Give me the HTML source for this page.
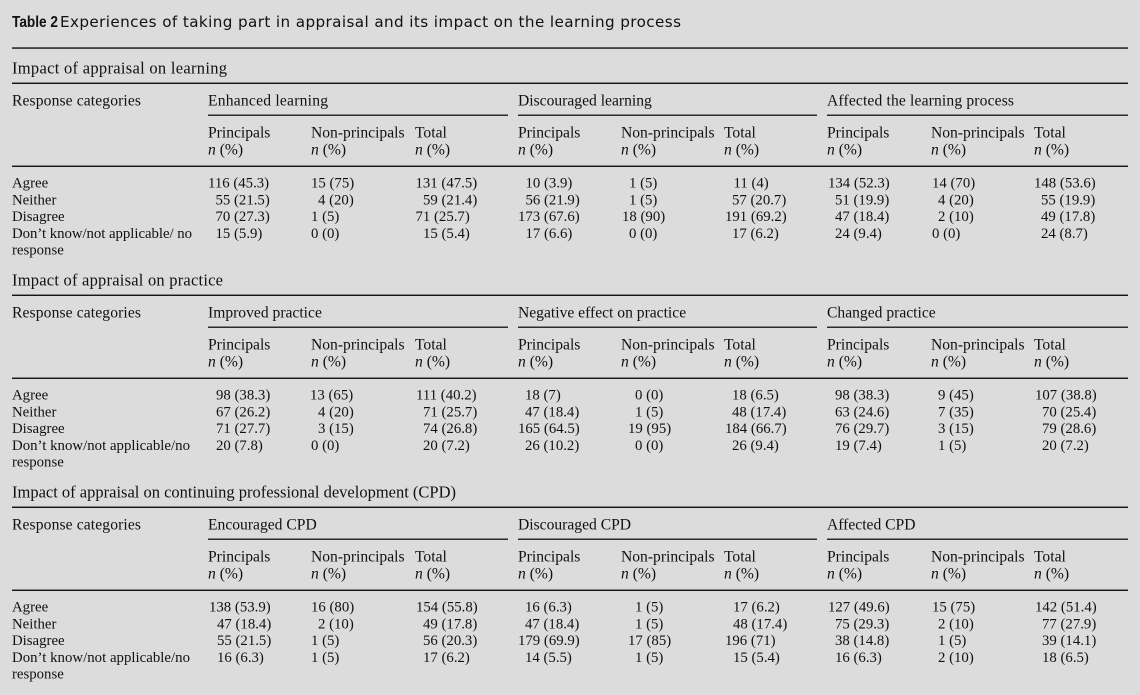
<!DOCTYPE html>
<html>
<head>
<meta charset="utf-8">
<style>
html,body{margin:0;padding:0;background:#dcdcdc;}
svg{display:block;}
text{fill:#111;}
.s{font-family:"Liberation Serif",serif;}
.h{font-size:15.6px;}
.r{font-size:14.8px;}
.d{font-size:14.8px;}
.t{font-size:16.5px;}
</style>
</head>
<body>
<svg width="1140" height="695" viewBox="0 0 1140 695" xmlns="http://www.w3.org/2000/svg">
<rect x="0" y="0" width="1140" height="695" fill="#dcdcdc"/>
<text x="12" y="27" font-family="Liberation Sans, sans-serif" font-size="15.5" font-weight="bold" textLength="46" lengthAdjust="spacingAndGlyphs">Table 2</text>
<text x="60" y="27" font-family="DejaVu Sans, Liberation Sans, sans-serif" font-size="15.2" textLength="621" lengthAdjust="spacing">Experiences of taking part in appraisal and its impact on the learning process</text>
<rect x="12" y="47.4" width="1116" height="1.3" fill="#000"/>

<!-- Section 1 -->
<g class="s">
<text class="t" x="12" y="73.5" textLength="215" lengthAdjust="spacing">Impact of appraisal on learning</text>
<rect x="12" y="82.6" width="1116" height="1.3" fill="#000"/>
<text class="h" x="12" y="105.5" textLength="129" lengthAdjust="spacing">Response categories</text>
<text class="h" x="208" y="105.5" textLength="120" lengthAdjust="spacing">Enhanced learning</text>
<text class="h" x="518" y="105.5">Discouraged learning</text>
<text class="h" x="827" y="105.5" textLength="187" lengthAdjust="spacing">Affected the learning process</text>
<rect x="208" y="114.6" width="300" height="1.2" fill="#000"/>
<rect x="518" y="114.6" width="299" height="1.2" fill="#000"/>
<rect x="827" y="114.6" width="301" height="1.2" fill="#000"/>
<text class="h" x="208" y="137.5">Principals</text><text class="h" x="311" y="137.5">Non-principals</text><text class="h" x="415" y="137.5">Total</text>
<text class="h" x="518" y="137.5">Principals</text><text class="h" x="621" y="137.5">Non-principals</text><text class="h" x="724" y="137.5">Total</text>
<text class="h" x="827" y="137.5">Principals</text><text class="h" x="931" y="137.5">Non-principals</text><text class="h" x="1034" y="137.5">Total</text>
<text class="h" x="208" y="154.5"><tspan font-style="italic">n</tspan> (%)</text><text class="h" x="311" y="154.5"><tspan font-style="italic">n</tspan> (%)</text><text class="h" x="415" y="154.5"><tspan font-style="italic">n</tspan> (%)</text>
<text class="h" x="518" y="154.5"><tspan font-style="italic">n</tspan> (%)</text><text class="h" x="621" y="154.5"><tspan font-style="italic">n</tspan> (%)</text><text class="h" x="724" y="154.5"><tspan font-style="italic">n</tspan> (%)</text>
<text class="h" x="827" y="154.5"><tspan font-style="italic">n</tspan> (%)</text><text class="h" x="931" y="154.5"><tspan font-style="italic">n</tspan> (%)</text><text class="h" x="1034" y="154.5"><tspan font-style="italic">n</tspan> (%)</text>
<rect x="12" y="165.6" width="1116" height="1.3" fill="#000"/>
<text class="r" x="12" y="187.5">Agree</text>
<text class="r" x="12" y="204.3">Neither</text>
<text class="r" x="12" y="221">Disagree</text>
<text class="r" x="12" y="237.8" textLength="180" lengthAdjust="spacing">Don’t know/not applicable/ no</text>
<text class="r" x="12" y="254.5">response</text>

<text class="d" x="208" y="187.5">116 (45.3)</text><text class="d" x="215.5" y="204.3">55 (21.5)</text><text class="d" x="215.5" y="221">70 (27.3)</text><text class="d" x="215.5" y="237.8">15 (5.9)</text>
<text class="d" x="311" y="187.5">15 (75)</text><text class="d" x="318" y="204.3">4 (20)</text><text class="d" x="311" y="221">1 (5)</text><text class="d" x="311" y="237.8">0 (0)</text>
<text class="d" x="415.5" y="187.5">131 (47.5)</text><text class="d" x="423" y="204.3">59 (21.4)</text><text class="d" x="415.5" y="221">71 (25.7)</text><text class="d" x="423" y="237.8">15 (5.4)</text>
<text class="d" x="525.5" y="187.5">10 (3.9)</text><text class="d" x="525.5" y="204.3">56 (21.9)</text><text class="d" x="518" y="221">173 (67.6)</text><text class="d" x="525.5" y="237.8">17 (6.6)</text>
<text class="d" x="629" y="187.5">1 (5)</text><text class="d" x="629" y="204.3">1 (5)</text><text class="d" x="622" y="221">18 (90)</text><text class="d" x="629" y="237.8">0 (0)</text>
<text class="d" x="733.5" y="187.5">11 (4)</text><text class="d" x="732" y="204.3">57 (20.7)</text><text class="d" x="725" y="221">191 (69.2)</text><text class="d" x="732" y="237.8">17 (6.2)</text>
<text class="d" x="828" y="187.5">134 (52.3)</text><text class="d" x="835" y="204.3">51 (19.9)</text><text class="d" x="835" y="221">47 (18.4)</text><text class="d" x="835" y="237.8">24 (9.4)</text>
<text class="d" x="932" y="187.5">14 (70)</text><text class="d" x="938" y="204.3">4 (20)</text><text class="d" x="938" y="221">2 (10)</text><text class="d" x="932" y="237.8">0 (0)</text>
<text class="d" x="1034" y="187.5">148 (53.6)</text><text class="d" x="1041" y="204.3">55 (19.9)</text><text class="d" x="1041" y="221">49 (17.8)</text><text class="d" x="1041" y="237.8">24 (8.7)</text>
</g>

<!-- Section 2 -->
<g class="s" transform="translate(0,212)">
<text class="t" x="12" y="73.5" textLength="211" lengthAdjust="spacing">Impact of appraisal on practice</text>
<rect x="12" y="82.6" width="1116" height="1.3" fill="#000"/>
<text class="h" x="12" y="105.5" textLength="129" lengthAdjust="spacing">Response categories</text>
<text class="h" x="208" y="105.5">Improved practice</text>
<text class="h" x="518" y="105.5">Negative effect on practice</text>
<text class="h" x="827" y="105.5">Changed practice</text>
<rect x="208" y="114.6" width="300" height="1.2" fill="#000"/>
<rect x="518" y="114.6" width="299" height="1.2" fill="#000"/>
<rect x="827" y="114.6" width="301" height="1.2" fill="#000"/>
<text class="h" x="208" y="137.5">Principals</text><text class="h" x="311" y="137.5">Non-principals</text><text class="h" x="415" y="137.5">Total</text>
<text class="h" x="518" y="137.5">Principals</text><text class="h" x="621" y="137.5">Non-principals</text><text class="h" x="724" y="137.5">Total</text>
<text class="h" x="827" y="137.5">Principals</text><text class="h" x="931" y="137.5">Non-principals</text><text class="h" x="1034" y="137.5">Total</text>
<text class="h" x="208" y="154.5"><tspan font-style="italic">n</tspan> (%)</text><text class="h" x="311" y="154.5"><tspan font-style="italic">n</tspan> (%)</text><text class="h" x="415" y="154.5"><tspan font-style="italic">n</tspan> (%)</text>
<text class="h" x="518" y="154.5"><tspan font-style="italic">n</tspan> (%)</text><text class="h" x="621" y="154.5"><tspan font-style="italic">n</tspan> (%)</text><text class="h" x="724" y="154.5"><tspan font-style="italic">n</tspan> (%)</text>
<text class="h" x="827" y="154.5"><tspan font-style="italic">n</tspan> (%)</text><text class="h" x="931" y="154.5"><tspan font-style="italic">n</tspan> (%)</text><text class="h" x="1034" y="154.5"><tspan font-style="italic">n</tspan> (%)</text>
<rect x="12" y="165.6" width="1116" height="1.3" fill="#000"/>
<text class="r" x="12" y="187.5">Agree</text>
<text class="r" x="12" y="204.3">Neither</text>
<text class="r" x="12" y="221">Disagree</text>
<text class="r" x="12" y="237.8" textLength="178" lengthAdjust="spacing">Don’t know/not applicable/no</text>
<text class="r" x="12" y="254.5">response</text>

<text class="d" x="216" y="187.5">98 (38.3)</text><text class="d" x="216" y="204.3">67 (26.2)</text><text class="d" x="216" y="221">71 (27.7)</text><text class="d" x="216" y="237.8">20 (7.8)</text>
<text class="d" x="310" y="187.5">13 (65)</text><text class="d" x="318" y="204.3">4 (20)</text><text class="d" x="318" y="221">3 (15)</text><text class="d" x="311" y="237.8">0 (0)</text>
<text class="d" x="416" y="187.5">111 (40.2)</text><text class="d" x="423" y="204.3">71 (25.7)</text><text class="d" x="423" y="221">74 (26.8)</text><text class="d" x="423" y="237.8">20 (7.2)</text>
<text class="d" x="525" y="187.5">18 (7)</text><text class="d" x="525" y="204.3">47 (18.4)</text><text class="d" x="518" y="221">165 (64.5)</text><text class="d" x="525" y="237.8">26 (10.2)</text>
<text class="d" x="635" y="187.5">0 (0)</text><text class="d" x="635" y="204.3">1 (5)</text><text class="d" x="628" y="221">19 (95)</text><text class="d" x="635" y="237.8">0 (0)</text>
<text class="d" x="732" y="187.5">18 (6.5)</text><text class="d" x="732" y="204.3">48 (17.4)</text><text class="d" x="725" y="221">184 (66.7)</text><text class="d" x="732" y="237.8">26 (9.4)</text>
<text class="d" x="835" y="187.5">98 (38.3)</text><text class="d" x="835" y="204.3">63 (24.6)</text><text class="d" x="835" y="221">76 (29.7)</text><text class="d" x="835" y="237.8">19 (7.4)</text>
<text class="d" x="938" y="187.5">9 (45)</text><text class="d" x="938" y="204.3">7 (35)</text><text class="d" x="938" y="221">3 (15)</text><text class="d" x="938" y="237.8">1 (5)</text>
<text class="d" x="1035" y="187.5">107 (38.8)</text><text class="d" x="1042" y="204.3">70 (25.4)</text><text class="d" x="1042" y="221">79 (28.6)</text><text class="d" x="1042" y="237.8">20 (7.2)</text>
</g>

<!-- Section 3 -->
<g class="s" transform="translate(0,424)">
<text class="t" x="12" y="73.5">Impact of appraisal on continuing professional development (CPD)</text>
<rect x="12" y="82.6" width="1116" height="1.3" fill="#000"/>
<text class="h" x="12" y="105.5" textLength="129" lengthAdjust="spacing">Response categories</text>
<text class="h" x="208" y="105.5">Encouraged CPD</text>
<text class="h" x="518" y="105.5">Discouraged CPD</text>
<text class="h" x="827" y="105.5">Affected CPD</text>
<rect x="208" y="114.6" width="300" height="1.2" fill="#000"/>
<rect x="518" y="114.6" width="299" height="1.2" fill="#000"/>
<rect x="827" y="114.6" width="301" height="1.2" fill="#000"/>
<text class="h" x="208" y="137.5">Principals</text><text class="h" x="311" y="137.5">Non-principals</text><text class="h" x="415" y="137.5">Total</text>
<text class="h" x="518" y="137.5">Principals</text><text class="h" x="621" y="137.5">Non-principals</text><text class="h" x="724" y="137.5">Total</text>
<text class="h" x="827" y="137.5">Principals</text><text class="h" x="931" y="137.5">Non-principals</text><text class="h" x="1034" y="137.5">Total</text>
<text class="h" x="208" y="154.5"><tspan font-style="italic">n</tspan> (%)</text><text class="h" x="311" y="154.5"><tspan font-style="italic">n</tspan> (%)</text><text class="h" x="415" y="154.5"><tspan font-style="italic">n</tspan> (%)</text>
<text class="h" x="518" y="154.5"><tspan font-style="italic">n</tspan> (%)</text><text class="h" x="621" y="154.5"><tspan font-style="italic">n</tspan> (%)</text><text class="h" x="724" y="154.5"><tspan font-style="italic">n</tspan> (%)</text>
<text class="h" x="827" y="154.5"><tspan font-style="italic">n</tspan> (%)</text><text class="h" x="931" y="154.5"><tspan font-style="italic">n</tspan> (%)</text><text class="h" x="1034" y="154.5"><tspan font-style="italic">n</tspan> (%)</text>
<rect x="12" y="165.6" width="1116" height="1.3" fill="#000"/>
<text class="r" x="12" y="187.5">Agree</text>
<text class="r" x="12" y="204.3">Neither</text>
<text class="r" x="12" y="221">Disagree</text>
<text class="r" x="12" y="237.8" textLength="178" lengthAdjust="spacing">Don’t know/not applicable/no</text>
<text class="r" x="12" y="254.5">response</text>

<text class="d" x="209" y="187.5">138 (53.9)</text><text class="d" x="217" y="204.3">47 (18.4)</text><text class="d" x="217" y="221">55 (21.5)</text><text class="d" x="217" y="237.8">16 (6.3)</text>
<text class="d" x="311" y="187.5">16 (80)</text><text class="d" x="318" y="204.3">2 (10)</text><text class="d" x="311" y="221">1 (5)</text><text class="d" x="311" y="237.8">1 (5)</text>
<text class="d" x="416" y="187.5">154 (55.8)</text><text class="d" x="423" y="204.3">49 (17.8)</text><text class="d" x="423" y="221">56 (20.3)</text><text class="d" x="423" y="237.8">17 (6.2)</text>
<text class="d" x="525" y="187.5">16 (6.3)</text><text class="d" x="525" y="204.3">47 (18.4)</text><text class="d" x="518" y="221">179 (69.9)</text><text class="d" x="525" y="237.8">14 (5.5)</text>
<text class="d" x="635" y="187.5">1 (5)</text><text class="d" x="635" y="204.3">1 (5)</text><text class="d" x="628" y="221">17 (85)</text><text class="d" x="635" y="237.8">1 (5)</text>
<text class="d" x="733" y="187.5">17 (6.2)</text><text class="d" x="733" y="204.3">48 (17.4)</text><text class="d" x="725" y="221">196 (71)</text><text class="d" x="733" y="237.8">15 (5.4)</text>
<text class="d" x="828" y="187.5">127 (49.6)</text><text class="d" x="835" y="204.3">75 (29.3)</text><text class="d" x="835" y="221">38 (14.8)</text><text class="d" x="835" y="237.8">16 (6.3)</text>
<text class="d" x="932" y="187.5">15 (75)</text><text class="d" x="938" y="204.3">2 (10)</text><text class="d" x="938" y="221">1 (5)</text><text class="d" x="938" y="237.8">2 (10)</text>
<text class="d" x="1035" y="187.5">142 (51.4)</text><text class="d" x="1042" y="204.3">77 (27.9)</text><text class="d" x="1042" y="221">39 (14.1)</text><text class="d" x="1042" y="237.8">18 (6.5)</text>
</g>
</svg>
</body>
</html>
